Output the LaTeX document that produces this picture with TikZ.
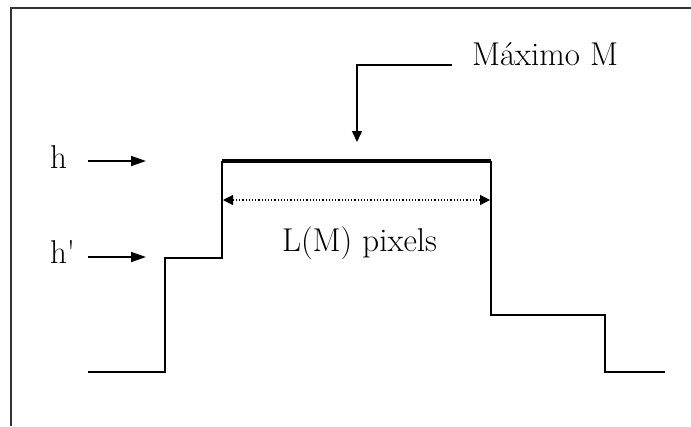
\documentclass[tikz,border=0pt]{standalone}
\usetikzlibrary{arrows.meta}
\begin{document}
\begin{tikzpicture}[x=1pt,y=-1pt,
  lbl/.style={inner sep=0pt,outer sep=0pt,font=\fontsize{33}{39}\selectfont,anchor=base west},
  ln/.style={line width=1.5pt,black},
  frame/.style={line width=1.5pt,black!80},
  harr/.style={ln,-{Triangle[length=15pt,width=10pt]}},
  varr/.style={ln,-{Triangle[length=11pt,width=10pt]}},
  darr/.style={line width=1.2pt,dotted,{Triangle[length=10pt,width=10pt]}-{Triangle[length=10pt,width=10pt]}}]
\useasboundingbox (0,0) rectangle (691,426);
% frame
\draw[frame] (11,426) -- (11,8) -- (691,8);
% staircase points
\coordinate (p0) at (88,372);
\coordinate (p1) at (165,372);
\coordinate (p2) at (165,258);
\coordinate (p3) at (222,258);
\coordinate (p4) at (222,161);
\coordinate (p5) at (491,161);
\coordinate (p6) at (491,315);
\coordinate (p7) at (605,315);
\coordinate (p8) at (605,372);
\coordinate (p9) at (665,372);
\draw[ln,line join=miter] (p0) -- (p1) -- (p2) -- (p3) -- (p4);
\draw[line width=3.2pt] (p4) -- (p5);
\draw[ln,line join=miter] (p5) -- (p6) -- (p7) -- (p8) -- (p9);
% labels
\node[lbl] (h) at (50,168) {h};
\node[lbl] (hp) at (50,263) {h\textquotesingle};
\node[lbl] (max) at (472,65) {Máximo M};
\node[lbl] (lm) at (282,251) {L(M) pixels};
% h arrows
\coordinate (ha) at (88,161);
\coordinate (hb) at (146,161);
\coordinate (hpa) at (88,257);
\coordinate (hpb) at (146,257);
\draw[harr] (ha) -- (hb);
\draw[harr] (hpa) -- (hpb);
% maximum leader
\coordinate (m0) at (452,65);
\coordinate (m1) at (357,65);
\coordinate (m2) at (357,142);
\draw[varr,line join=miter] (m0) -- (m1) -- (m2);
% length arrow
\coordinate (la) at (223,200);
\coordinate (lb) at (490,200);
\draw[darr] (la) -- (lb);
\end{tikzpicture}
\end{document}
